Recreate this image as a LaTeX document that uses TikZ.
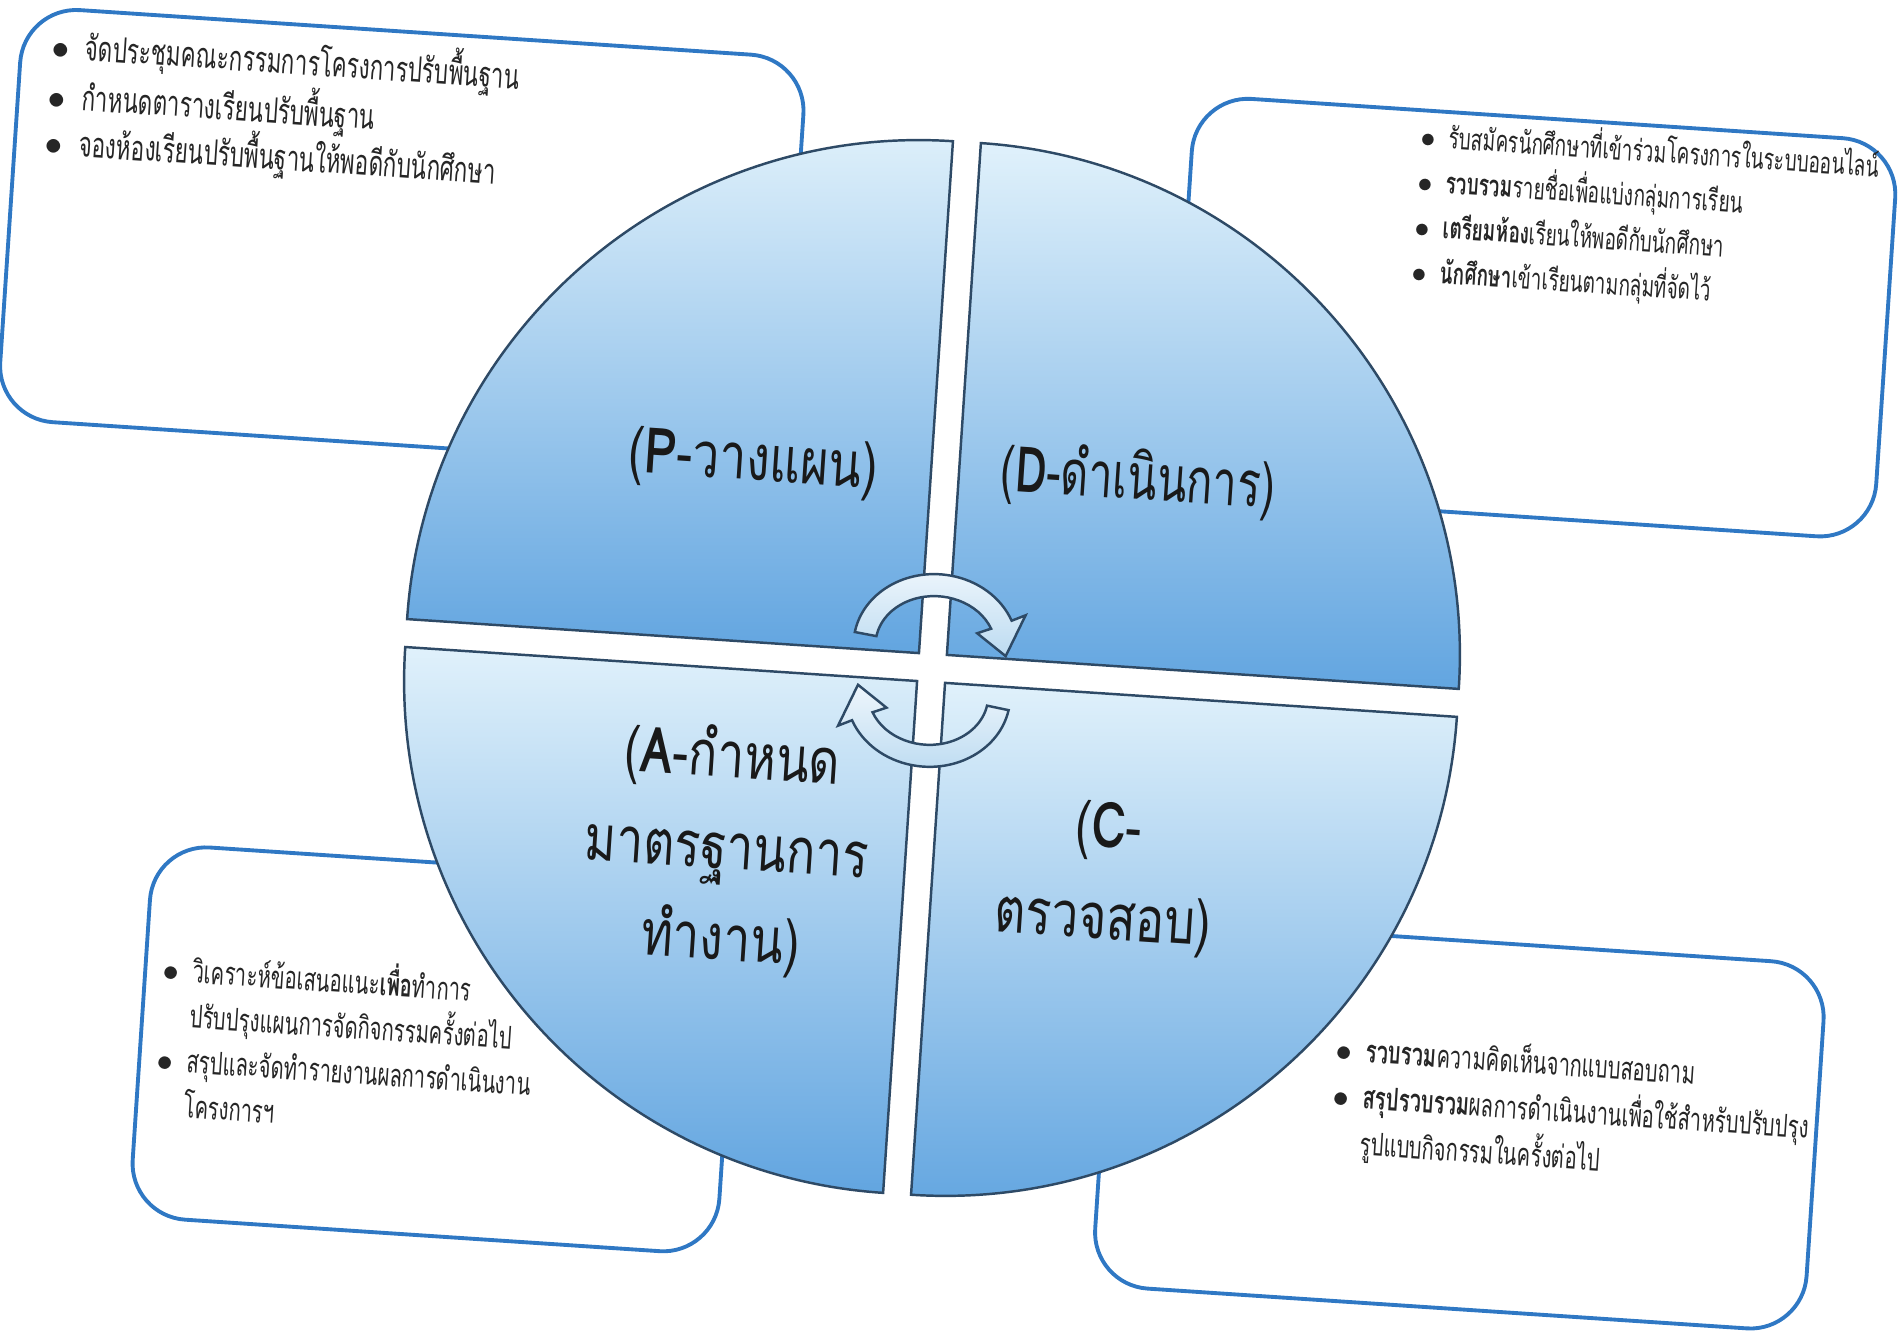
\documentclass[tikz,border=0pt]{standalone}
\usepackage{fontspec}
\usepackage{tikz}
\usetikzlibrary{calc}

\newfontfamily\thaibox[Script=Thai,FakeStretch=0.64]{Loma}
\newfontfamily\thailabel[Script=Thai,FakeStretch=0.76]{Loma}

\definecolor{boxblue}{HTML}{2F78C4}
\definecolor{quadtop}{HTML}{E0F1FB}
\definecolor{quadbot}{HTML}{62A5E0}
\definecolor{quadline}{HTML}{2E4A66}
\definecolor{arrowtop}{HTML}{EEF6FC}
\definecolor{arrowbot}{HTML}{BCDBF1}

\newcommand{\bt}{\makebox[0.95em][l]{$\bullet$}}

\begin{document}
\begin{tikzpicture}[
    notebox/.style={draw=boxblue, line width=1.1pt, rounded corners=16pt, fill=white},
    quad/.style={draw=quadline, line width=0.7pt, top color=quadtop, bottom color=quadbot},
    cyclearrow/.style={draw=quadline, line width=0.7pt, top color=arrowtop, bottom color=arrowbot},
    notetext/.style={anchor=north west, align=left, inner sep=0pt, text=black!85,
      font=\thaibox\fontsize{10}{13.2}\selectfont},
    phase/.style={align=center, text=black!90, font=\thailabel\fontsize{18}{26}\selectfont}
  ]

    \useasboundingbox (0,0) rectangle (19.04,13.34);
    \coordinate (c) at (9.32,6.66);

    % the scanned page is turned a little clockwise
    \begin{scope}[shift={(c)}, rotate=-3.8, transform shape]

    % Note boxes behind the circle
    \draw[notebox] (-9.50,1.87) rectangle (-1.65,6.00);
    \draw[notebox] (2.25,1.90) rectangle (9.30,5.89);
    \draw[notebox] (-7.65,-6.00) rectangle (-1.77,-2.27);
    \draw[notebox] (2.00,-6.05) rectangle (9.13,-2.37);

    % Four quarters of the circle
    \draw[quad] (-0.14,0.14) -- (-5.27,0.14) arc[start angle=180, end angle=90, radius=5.13] -- cycle;
    \draw[quad] (0.14,0.14) -- (0.14,5.27) arc[start angle=90, end angle=0, radius=5.13] -- cycle;
    \draw[quad] (0.14,-0.14) -- (5.27,-0.14) arc[start angle=0, end angle=-90, radius=5.13] -- cycle;
    \draw[quad] (-0.14,-0.14) -- (-0.14,-5.27) arc[start angle=-90, end angle=-180, radius=5.13] -- cycle;

    % Cycle arrows in the middle
    \coordinate (T) at (0.02,0.22);
    \coordinate (B) at (-0.02,-0.27);
    \draw[cyclearrow] ($(T)+(173:0.82 and 0.72)$)
      arc[start angle=173, end angle=25, x radius=0.82, y radius=0.72]
      -- ($(T)+(25:0.97 and 0.87)$) -- ($(T)+(-5:0.71 and 0.61)$)
      -- ($(T)+(25:0.45 and 0.37)$) -- ($(T)+(25:0.60 and 0.50)$)
      arc[start angle=25, end angle=173, x radius=0.60, y radius=0.50] -- cycle;
    \draw[cyclearrow] ($(B)+(-8:0.82 and 0.72)$)
      arc[start angle=-8, end angle=-155, x radius=0.82, y radius=0.72]
      -- ($(B)+(-155:0.97 and 0.87)$) -- ($(B)+(-185:0.71 and 0.61)$)
      -- ($(B)+(-155:0.45 and 0.37)$) -- ($(B)+(-155:0.60 and 0.50)$)
      arc[start angle=-155, end angle=-8, x radius=0.60, y radius=0.50] -- cycle;

    % Phase names
    \node[phase] (plan) at (-1.92,1.92) {({\bfseries P}-วางแผน)};
    \node[phase, xscale=0.9] (do) at (1.93,2.01) {({\bfseries D}-ดำเนินการ)};
    \node[phase] (act) at (-1.93,-1.95) {({\bfseries A}-กำหนด\\มาตรฐานการ\\ทำงาน)};
    \node[phase] (check) at (1.87,-1.97) {({\bfseries C}-\\ตรวจสอบ)};

    % Box texts
    \node[notetext] (plantext) at (-9.20,5.88) {\bt จัดประชุมคณะกรรมการโครงการปรับพื้นฐาน\\
      \bt กำหนดตารางเรียนปรับพื้นฐาน\\
      \bt จองห้องเรียนปรับพื้นฐานให้พอดีกับนักศึกษา};
    \node[notetext, font=\thaibox\fontsize{8.5}{12.8}\selectfont] (dotext) at (4.52,5.84)
      {\bt รับสมัครนักศึกษาที่เข้าร่วมโครงการในระบบออนไลน์\\
      \bt {\bfseries รวบรวม}รายชื่อเพื่อแบ่งกลุ่มการเรียน\\
      \bt {\bfseries เตรียมห้อง}เรียนให้พอดีกับนักศึกษา\\
      \bt {\bfseries นักศึกษา}เข้าเรียนตามกลุ่มที่จัดไว้};
    \node[notetext, font=\thaibox\fontsize{9}{12.8}\selectfont] (acttext) at (-7.48,-3.30)
      {\bt วิเคราะห์ข้อเสนอแนะ{\bfseries เพื่อ}ทำการ\\
      \hspace{0.95em}ปรับปรุงแผนการจัดกิจกรรมครั้งต่อไป\\
      \bt สรุปและจัดทำรายงานผลการดำเนินงาน\\
      \hspace{0.95em}โครงการฯ};
    \node[notetext, font=\thaibox\fontsize{9}{13.2}\selectfont] (checktext) at (4.28,-3.35)
      {\bt {\bfseries รวบรวม}ความคิดเห็นจากแบบสอบถาม\\
      \bt {\bfseries สรุปรวบรวม}ผลการดำเนินงานเพื่อใช้สำหรับปรับปรุง\\
      \hspace{0.95em}รูปแบบกิจกรรมในครั้งต่อไป};

    \end{scope}

\end{tikzpicture}
\end{document}
